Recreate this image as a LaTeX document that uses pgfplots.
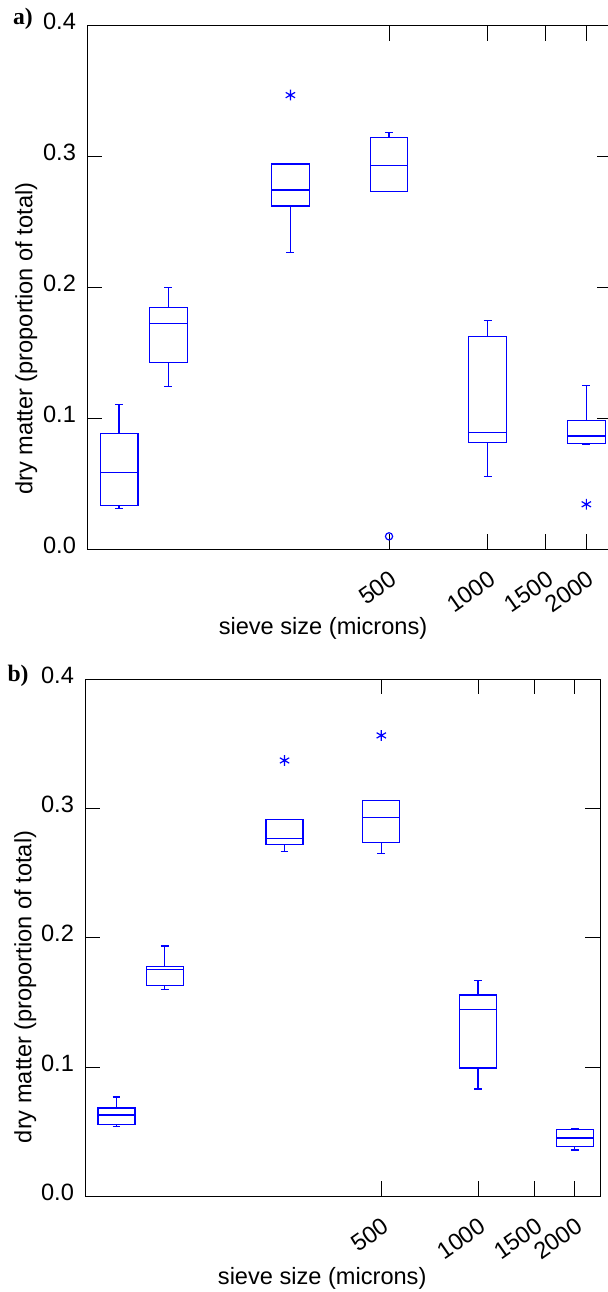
\documentclass[border=0pt]{standalone}
\usepackage{fontspec}
\setmainfont{Liberation Sans}
\newfontfamily\panelfont{Liberation Serif}
\usepackage{pgfplots}
\pgfplotsset{compat=1.18}
\usepgfplotslibrary{statistics}

% x is log10(sieve size): boxes at 75, 106, 250, 500, 1000, 2000 microns
\pgfplotsset{
  sieve/.style={
    scale only axis,
    xmin=1.77815, xmax=3.38021,
    ymin=0, ymax=0.4,
    xtick={2.69897,3,3.17609,3.30103},
    xticklabels={500,1000,1500,2000},
    ytick={0,0.1,0.2,0.3,0.4},
    minor tick num=0,
    tick align=inside,
    xtick pos=both, ytick pos=both,
    xticklabel pos=lower, yticklabel pos=left,
    major tick length=7.5pt,
    tick style={black, line width=0.5pt},
    axis line style={black, line width=0.5pt},
    /pgf/number format/assume math mode=true,
    yticklabel style={/pgf/number format/fixed, /pgf/number format/fixed zerofill,
      /pgf/number format/precision=1, anchor=east, inner sep=0pt, xshift=-5.5pt, yshift=2pt},
    xticklabel style={xshift=0pt, yshift=-10pt, rotate=35, anchor=north east, inner sep=0pt},
    ylabel={dry matter (proportion of total)},
    xlabel={sieve size (microns)},
    boxplot/draw direction=y,
    boxplot/box extend=0.115,
    boxplot/whisker extend=0.024,
  },
  bx/.style={blue, line width=0.6pt, solid},
}

\begin{document}
\fontsize{11.8}{14}\selectfont
\begin{tikzpicture}

% ---------- a) ----------
\begin{axis}[sieve,
  at={(43.65pt,-12.85pt)}, anchor=north west,
  width=262.5pt, height=261.8pt,
  ylabel style={at={(axis description cs:0,0.402)}, anchor=center, yshift=30.5pt},
  xlabel style={at={(axis description cs:0.449,0)}, anchor=center, yshift=-39.5pt},
]
\addplot[bx, boxplot prepared={draw position=1.87506,
  lower whisker=0.0310, lower quartile=0.0336, median=0.0588,
  upper quartile=0.0885, upper whisker=0.1104}] coordinates {};
\addplot[bx, boxplot prepared={draw position=2.02531,
  lower whisker=0.1241, lower quartile=0.1425, median=0.1725,
  upper quartile=0.1847, upper whisker=0.1997}] coordinates {};
\addplot[bx, mark=asterisk, mark size=2.7pt, boxplot prepared={draw position=2.39794,
  lower whisker=0.2269, lower quartile=0.2623, median=0.2745,
  upper quartile=0.2944, upper whisker=0.2944}] coordinates {(0,0.347)};
\addplot[bx, mark=o, mark size=1.8pt, boxplot prepared={draw position=2.69897,
  lower whisker=0.2733, lower quartile=0.2733, median=0.2931,
  upper quartile=0.3145, upper whisker=0.3186}] coordinates {(0,0.0099)};
\addplot[bx, boxplot prepared={draw position=3,
  lower whisker=0.0557, lower quartile=0.0819, median=0.0895,
  upper quartile=0.1626, upper whisker=0.1745}] coordinates {};
\addplot[bx, mark=asterisk, mark size=2.7pt, boxplot prepared={draw position=3.30103,
  lower whisker=0.0802, lower quartile=0.0806, median=0.0865,
  upper quartile=0.0985, upper whisker=0.1252}] coordinates {(0,0.0344)};
\end{axis}

% ---------- b) ----------
\begin{axis}[sieve,
  at={(42.65pt,-339.65pt)}, anchor=north west,
  width=257.5pt, height=258.5pt,
  ylabel style={at={(axis description cs:0,0.405)}, anchor=center, yshift=30pt},
  xlabel style={at={(axis description cs:0.46,0)}, anchor=center, yshift=-41pt},
]
\addplot[bx, boxplot prepared={draw position=1.87506,
  lower whisker=0.0539, lower quartile=0.0555, median=0.0629,
  upper quartile=0.0684, upper whisker=0.0769}] coordinates {};
\addplot[bx, boxplot prepared={draw position=2.02531,
  lower whisker=0.1602, lower quartile=0.1628, median=0.1752,
  upper quartile=0.1778, upper whisker=0.1937}] coordinates {};
\addplot[bx, mark=asterisk, mark size=2.7pt, boxplot prepared={draw position=2.39794,
  lower whisker=0.2665, lower quartile=0.2724, median=0.2766,
  upper quartile=0.2918, upper whisker=0.2918}] coordinates {(0,0.3372)};
\addplot[bx, mark=asterisk, mark size=2.7pt, boxplot prepared={draw position=2.69897,
  lower whisker=0.2652, lower quartile=0.2735, median=0.2933,
  upper quartile=0.3060, upper whisker=0.3060}] coordinates {(0,0.3566)};
\addplot[bx, boxplot prepared={draw position=3,
  lower whisker=0.0831, lower quartile=0.0993, median=0.1447,
  upper quartile=0.1558, upper whisker=0.1669}] coordinates {};
\addplot[bx, boxplot prepared={draw position=3.30103,
  lower whisker=0.0358, lower quartile=0.0387, median=0.0451,
  upper quartile=0.0516, upper whisker=0.0524}] coordinates {};
\end{axis}

\node[font=\panelfont\bfseries] at (11.5pt,-9.5pt) {a)};
\node[font=\panelfont\bfseries] at (9pt,-338pt) {b)};

\pgfresetboundingbox
\path[use as bounding box] (0pt,0pt) rectangle (304pt,-646pt);
\end{tikzpicture}
\end{document}
